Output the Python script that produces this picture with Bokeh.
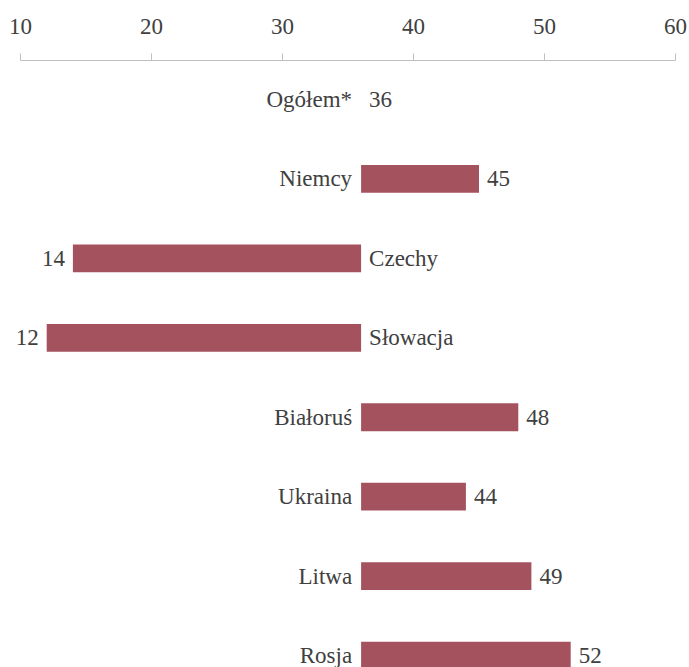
from bokeh.plotting import figure
from bokeh.models import Range1d, ColumnDataSource, FixedTicker, LinearAxis
from bokeh.core.properties import value
from bokeh.embed import file_html
from bokeh.resources import INLINE

categories = ["Ogółem*", "Niemcy", "Czechy", "Słowacja", "Białoruś", "Ukraina", "Litwa", "Rosja"]
values = [36, 45, 14, 12, 48, 44, 49, 52]
baseline = 36
ticks = [10, 20, 30, 40, 50, 60]

FONT = "Liberation Serif"
TEXT_COLOR = "#404040"
BAR_COLOR = "#A5525F"

idx = list(range(len(categories)))
right_side = [v >= baseline for v in values]

src = ColumnDataSource(dict(
    y=idx,
    left=[baseline] * len(values),
    right=values,
    cat=categories,
    val=[str(v) for v in values],
    base=[baseline] * len(values),
    name_off=[-9 if r else 8 for r in right_side],
    name_align=["right" if r else "left" for r in right_side],
    val_off=[8 if r else -8 for r in right_side],
    val_align=["left" if r else "right" for r in right_side],
))

# frame spans the full width left of the axis start so outside labels are not clipped
W, LEFT_PAD, RIGHT_BORDER = 689, 20, 14
frame_w = W - RIGHT_BORDER
x_start = (frame_w * ticks[0] - LEFT_PAD * ticks[-1]) / (frame_w - LEFT_PAD)

p = figure(width=W, height=667, output_backend="svg", toolbar_location=None,
           x_range=Range1d(x_start, ticks[-1]), y_range=Range1d(7.15, -0.49),
           x_axis_location=None, y_axis_location=None,
           min_border_left=0, min_border_right=RIGHT_BORDER, min_border_top=60, min_border_bottom=0)
p.outline_line_color = None
p.grid.visible = False
p.background_fill_color = "white"
p.border_fill_color = "white"

ax = LinearAxis(ticker=FixedTicker(ticks=ticks), bounds=(ticks[0], ticks[-1]))
ax.axis_line_color = "#BFBFBF"
ax.axis_line_width = 1
ax.major_tick_line_color = "#BFBFBF"
ax.major_tick_in = 0
ax.major_tick_out = 7
ax.minor_tick_line_color = None
ax.major_label_text_font = FONT
ax.major_label_text_font_size = "23px"
ax.major_label_text_color = TEXT_COLOR
ax.major_label_standoff = 20
p.add_layout(ax, "above")

p.hbar(y="y", left="left", right="right", height=0.35, source=src,
       fill_color=BAR_COLOR, line_color=None)

p.text(x="base", y="y", text="cat", source=src, x_offset="name_off",
       text_align="name_align", text_baseline="middle",
       text_font=value(FONT), text_font_size="23px", text_color=TEXT_COLOR)
p.text(x="right", y="y", text="val", source=src, x_offset="val_off",
       text_align="val_align", text_baseline="middle",
       text_font=value(FONT), text_font_size="23px", text_color=TEXT_COLOR)

open("out.html", "w").write(file_html(p, INLINE))
